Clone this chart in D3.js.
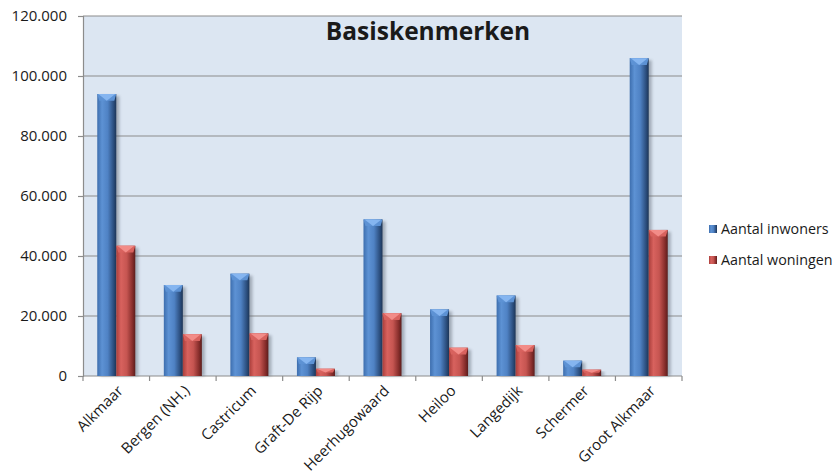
<!DOCTYPE html>
<html>
<head>
<meta charset="utf-8">
<script src="https://cdn.jsdelivr.net/npm/d3@7"></script>
<style>
  html, body { margin: 0; padding: 0; background: #ffffff; }
  svg { display: block; }
  text { font-family: "Open Sans", Lato, sans-serif; fill: #1a1a1a; }
</style>
</head>
<body>
<svg id="chart" width="836" height="474"></svg>
<script>
// Municipalities of the Alkmaar region
const categories = ["Alkmaar", "Bergen (NH.)", "Castricum", "Graft-De Rijp", "Heerhugowaard",
                    "Heiloo", "Langedijk", "Schermer", "Groot Alkmaar"];
// Number of inhabitants
const inwoners = [94000, 30300, 34100, 6200, 52200, 22200, 26800, 5100, 105900];
// Number of dwellings
const woningen = [43400, 13900, 14200, 2400, 20900, 9400, 10300, 2100, 48700];
const seriesNames = ["Aantal inwoners", "Aantal woningen"];
const yTicks = [0, 20000, 40000, 60000, 80000, 100000, 120000];
const title = "Basiskenmerken";

const svg = d3.select("#chart");
const plot = { left: 83, top: 16, right: 682, bottom: 376 };

const x = d3.scaleBand().domain(categories).range([plot.left, plot.right]).paddingInner(0).paddingOuter(0);
const xSeries = d3.scaleBand().domain(seriesNames).range([0, x.bandwidth()]).paddingInner(0).paddingOuter(0.75);
const y = d3.scaleLinear().domain([0, 120000]).range([plot.bottom, plot.top]);

const fmt = v => d3.format(",")(v).replace(/,/g, ".");

// Gradients and shadow
const defs = svg.append("defs");
const palettes = [
  { id: "gBlue", stops: ["#3d6eae", "#5d92d4", "#4f82c4", "#2c4f7f", "#1d3556"], top: "#85b5f0", topDark: "#5d92d4" },
  { id: "gRed", stops: ["#aa3e3b", "#d8625e", "#c65551", "#862d2b", "#5a1d1c"], top: "#f28c88", topDark: "#d8625e" }
];
palettes.forEach(p => {
  const g = defs.append("linearGradient").attr("id", p.id).attr("x1", 0).attr("x2", 1).attr("y1", 0).attr("y2", 0);
  [0, 0.25, 0.55, 0.85, 1].forEach((o, i) => g.append("stop").attr("offset", o).attr("stop-color", p.stops[i]));
});
defs.append("filter").attr("id", "shadow").attr("x", "-50%").attr("y", "-10%").attr("width", "200%").attr("height", "120%")
  .append("feGaussianBlur").attr("stdDeviation", 1.6);

// Plot background
svg.append("rect")
  .attr("x", plot.left).attr("y", plot.top)
  .attr("width", plot.right - plot.left).attr("height", plot.bottom - plot.top)
  .attr("fill", "#dce6f2");

// Gridlines
svg.append("g")
  .selectAll("line")
  .data(yTicks.filter(d => d > 0))
  .join("line")
  .attr("x1", plot.left).attr("x2", plot.right)
  .attr("y1", d => y(d)).attr("y2", d => y(d))
  .attr("stroke", "#8c8c8c").attr("stroke-width", 1.2);

// Y axis
const yAxis = svg.append("g")
  .attr("transform", `translate(${plot.left},0)`)
  .call(d3.axisLeft(y).tickValues(yTicks).tickFormat(fmt).tickSize(5).tickPadding(11));
yAxis.select(".domain").attr("stroke", "#8c8c8c").attr("stroke-width", 1.2);
yAxis.selectAll(".tick line").attr("stroke", "#8c8c8c").attr("stroke-width", 1.2);
yAxis.selectAll(".tick text").attr("font-size", 15).attr("font-family", "'Open Sans', Lato, sans-serif").attr("fill", "#1a1a1a");

// X axis (ticks on category boundaries)
const xAxisG = svg.append("g");
xAxisG.append("line")
  .attr("x1", plot.left).attr("x2", plot.right)
  .attr("y1", plot.bottom).attr("y2", plot.bottom)
  .attr("stroke", "#8c8c8c").attr("stroke-width", 1.2);
const boundaries = categories.map(c => x(c)).concat([plot.right]);
xAxisG.selectAll("line.tk")
  .data(boundaries)
  .join("line").attr("class", "tk")
  .attr("x1", d => d).attr("x2", d => d)
  .attr("y1", plot.bottom).attr("y2", plot.bottom + 5)
  .attr("stroke", "#8c8c8c").attr("stroke-width", 1.2);
xAxisG.selectAll("text")
  .data(categories)
  .join("text")
  .attr("transform", d => `translate(${x(d) + x.bandwidth() / 2 + 4},${plot.bottom + 12}) rotate(-45)`)
  .attr("text-anchor", "end")
  .attr("dy", "0.35em")
  .attr("font-size", 15)
  .text(d => d);

// Bars with bevelled tops
const rows = categories.map((c, i) => ({ c, vals: [inwoners[i], woningen[i]] }));
const barW = xSeries.bandwidth();
rows.forEach(r => {
  r.vals.forEach((v, si) => {
    const p = palettes[si];
    const bx = x(r.c) + xSeries(seriesNames[si]);
    const by = y(v);
    const bh = y(0) - by;
    const g = svg.append("g");
    // soft shadow on the right
    g.append("rect")
      .attr("x", bx + 3).attr("y", by + 2).attr("width", barW).attr("height", bh - 2)
      .attr("fill", "#5a6470").attr("opacity", 0.45).attr("filter", "url(#shadow)");
    g.append("rect")
      .attr("x", bx).attr("y", by).attr("width", barW).attr("height", bh)
      .attr("fill", `url(#${p.id})`);
    const b = Math.min(barW * 0.35, bh * 0.5);
    // top face
    g.append("polygon")
      .attr("points", [[bx, by], [bx + barW, by], [bx + barW - 2, by + b], [bx + 2, by + b]].map(q => q.join(",")).join(" "))
      .attr("fill", p.topDark);
    g.append("polygon")
      .attr("points", [[bx + 1, by], [bx + barW - 1, by], [bx + barW / 2, by + b]].map(q => q.join(",")).join(" "))
      .attr("fill", p.top);
  });
});

// Title
svg.append("text")
  .attr("x", 428).attr("y", 40)
  .attr("text-anchor", "middle")
  .attr("font-size", 24.5).attr("font-weight", "bold")
  .text(title);

// Legend
const legend = svg.append("g");
seriesNames.forEach((name, i) => {
  const ly = 229 + i * 31;
  legend.append("rect")
    .attr("x", 709).attr("y", ly - 4).attr("width", 8).attr("height", 8)
    .attr("fill", `url(#${palettes[i].id})`);
  legend.append("text")
    .attr("x", 721).attr("y", ly).attr("dy", "0.35em")
    .attr("font-size", 14.3)
    .text(name);
});
</script>
</body>
</html>
